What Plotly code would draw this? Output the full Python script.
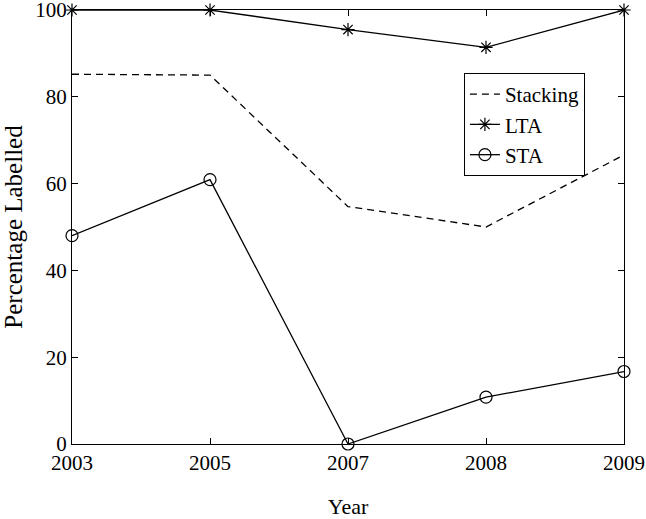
import plotly.graph_objects as go

years = ["2003", "2005", "2007", "2008", "2009"]
stacking = [85.2, 85.0, 54.7, 50.0, 66.6]
lta = [100, 100, 95.5, 91.4, 100]
sta = [48.0, 60.9, 0.0, 10.8, 16.7]

fig = go.Figure()
fig.add_trace(go.Scatter(
    x=years, y=stacking, mode="lines", name="Stacking",
    line=dict(color="black", width=1.3, dash="7px,5px"),
))
fig.add_trace(go.Scatter(
    x=years, y=lta, mode="lines+markers", name="LTA",
    line=dict(color="black", width=1.3),
    marker=dict(symbol="asterisk-open", size=11, color="black",
                line=dict(color="black", width=1.2)),
))
fig.add_trace(go.Scatter(
    x=years, y=sta, mode="lines+markers", name="STA",
    line=dict(color="black", width=1.3),
    marker=dict(symbol="circle-open", size=12, color="black",
                line=dict(color="black", width=1.2)),
))
fig.update_traces(cliponaxis=False)

axis_style = dict(
    showline=True, linecolor="black", linewidth=1.3, mirror="ticks",
    ticks="inside", ticklen=6, tickcolor="black", showgrid=False,
    zeroline=False, tickfont=dict(size=21), automargin=False,
    ticklabeloverflow="allow",
)

fig.update_layout(
    width=646, height=519,
    margin=dict(l=72, r=22, t=10, b=75),
    paper_bgcolor="white", plot_bgcolor="white",
    font=dict(family="Liberation Serif, Times New Roman, serif", color="black", size=22),
    xaxis=dict(type="category", range=[0, 4],
               title=dict(text="Year", standoff=24, font=dict(size=22)), **axis_style),
    yaxis=dict(range=[0, 100], tickvals=[0, 20, 40, 60, 80, 100],
               title=dict(text="Percentage Labelled", standoff=14, font=dict(size=25)), **axis_style),
    legend=dict(x=0.71, y=0.855, xanchor="left", yanchor="top",
                bordercolor="black", borderwidth=1, bgcolor="white",
                font=dict(size=21), tracegroupgap=0, itemwidth=30),
    showlegend=True,
)

# page body has an 8px default margin; drop it so the figure sits at (0, 0)
fig.write_html("out.html", config={"displayModeBar": False},
               post_script="document.body.style.margin='0';")
